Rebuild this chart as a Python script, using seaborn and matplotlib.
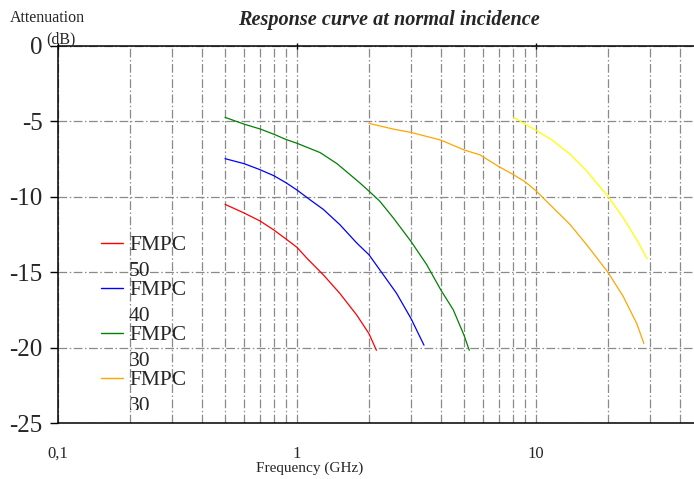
import numpy as np
import pandas as pd
import matplotlib
matplotlib.use("Agg")
import matplotlib.pyplot as plt
import seaborn as sns
from matplotlib.ticker import FixedLocator, NullFormatter, FixedFormatter
from matplotlib.transforms import Bbox, TransformedBbox

# ---- data ----
red_f = [0.5, 0.6, 0.7, 0.8, 0.9, 1.0, 1.1, 1.29, 1.51, 1.78, 2.0, 2.15]
red_db = [-10.5, -11.07, -11.6, -12.2, -12.8, -13.35, -14.07, -15.18, -16.4, -17.85, -19.07, -20.18]

blue_f = [0.5, 0.6, 0.7, 0.8, 0.9, 1.0, 1.13, 1.29, 1.51, 1.78, 2.0, 2.3, 2.61, 3.0, 3.4]
blue_db = [-7.47, -7.8, -8.2, -8.6, -9.07, -9.55, -10.18, -10.84, -11.84, -13.07, -13.84, -15.18, -16.4, -18.07, -19.84]

green_f = [0.5, 0.6, 0.7, 0.8, 0.9, 1.0, 1.25, 1.47, 1.83, 2.0, 2.22, 2.53, 3.0, 3.49, 4.0, 4.51, 5.0, 5.26]
green_db = [-4.73, -5.18, -5.5, -5.85, -6.2, -6.45, -7.07, -7.8, -9.07, -9.62, -10.29, -11.4, -12.96, -14.5, -16.18, -17.5, -19.18, -20.18]

orange_f = [2.0, 2.53, 3.0, 4.0, 5.0, 5.83, 6.93, 8.0, 9.0, 10.0, 11.8, 13.9, 16.3, 20.0, 23.2, 26.4, 28.3]
orange_db = [-5.13, -5.51, -5.73, -6.24, -6.89, -7.22, -7.96, -8.51, -9.0, -9.6, -10.73, -11.84, -13.18, -15.0, -16.62, -18.4, -19.73]

yellow_f = [8.07, 9.0, 10.0, 11.8, 13.9, 16.3, 20.0, 23.2, 26.4, 29.2]
yellow_db = [-4.73, -5.18, -5.58, -6.29, -7.18, -8.29, -9.96, -11.4, -12.84, -14.11]

legend_labels = ["FMPC\n50", "FMPC\n40", "FMPC\n30", "FMPC\n30"]
colors = ["#ff0000", "#0000ff", "#008000", "#ffa500", "#ffff00"]

x_major = [0.1, 1, 10]
x_major_labels = ["0,1", "1", "10"]
y_ticks = [0, -5, -10, -15, -20, -25]
y_tick_labels = ["0", "-5", "-10", "-15", "-20", "-25"]

series = [(red_f, red_db), (blue_f, blue_db), (green_f, green_db),
          (orange_f, orange_db), (yellow_f, yellow_db)]

sns.set_style("white")
plt.rcParams["font.family"] = ["Liberation Serif", "DejaVu Serif"]

fig = plt.figure(figsize=(6.94, 4.79), dpi=100)
W, H = 694, 479
ax = fig.add_axes([58 / W, 1 - 423 / H, (703 - 58) / W, (423 - 46) / H])

handles = []
for (f, db), c in zip(series, colors):
    sns.lineplot(x=f, y=db, ax=ax, color=c, linewidth=0.9, estimator=None,
                 sort=False)
    handles.append(ax.lines[-1])

ax.set_xscale("log")
ax.set_xlim(0.1, 50)
ax.set_ylim(-25, 0)

ax.xaxis.set_major_locator(FixedLocator(x_major))
ax.xaxis.set_major_formatter(FixedFormatter(x_major_labels))
minor = [m * 10.0 ** k for k in (-1, 0, 1) for m in range(2, 10)]
ax.xaxis.set_minor_locator(FixedLocator(minor))
ax.xaxis.set_minor_formatter(NullFormatter())
ax.set_yticks(y_ticks)
ax.set_yticklabels(y_tick_labels)

gstyle = dict(color="#8a8a8a", linewidth=0.9, linestyle=(0, (7, 2, 1.2, 2)))
ax.grid(True, which="both", axis="x", **gstyle)
ax.grid(True, which="major", axis="y", **gstyle)

for s in ["left", "bottom", "top"]:
    ax.spines[s].set_visible(True)
    ax.spines[s].set_color("black")
    ax.spines[s].set_linewidth(1.1)
ax.spines["right"].set_visible(False)

ax.tick_params(axis="y", which="major", direction="out", length=6, width=1,
               color="black", pad=5, labelsize=18, left=True)
ax.tick_params(axis="x", which="major", bottom=False, top=True, direction="inout",
               length=5, width=1, color="black", labelsize=12, pad=14)
ax.tick_params(axis="x", which="minor", bottom=False, top=False)

fig.text(10 / W, 1 - 18 / H, "Attenuation", fontsize=11.5, ha="left", va="center")
fig.text(46 / W, 1 - 39 / H, "(dB)", fontsize=11.5, ha="left", va="center")
fig.text(310 / W, 1 - 468 / H, "Frequency (GHz)", fontsize=11, ha="center", va="center")
fig.text(389 / W, 1 - 20 / H, "Response curve at normal incidence", fontsize=14.6,
         fontweight="bold", fontstyle="italic", ha="center", va="center")

leg = ax.legend(handles[:4], legend_labels, loc="upper left",
                bbox_to_anchor=(101 / W, 1 - 236 / H), bbox_transform=fig.transFigure,
                frameon=False, fontsize=15.5, handlelength=1.0, handletextpad=0.3,
                labelspacing=0.0, borderpad=0, borderaxespad=0)
for t in leg.get_texts():
    t.set_linespacing(1.5)
for ln in leg.get_lines():
    ln.set_linewidth(1.0)
    ln.set_ydata(np.asarray(ln.get_ydata()) + 10.7)
clipbox = TransformedBbox(Bbox([[0, 69 / H], [1, 1]]), fig.transFigure)
last = leg.get_texts()[-1]
last.set_clip_box(clipbox)
last.set_clip_on(True)

fig.savefig("out.png", dpi=100)
